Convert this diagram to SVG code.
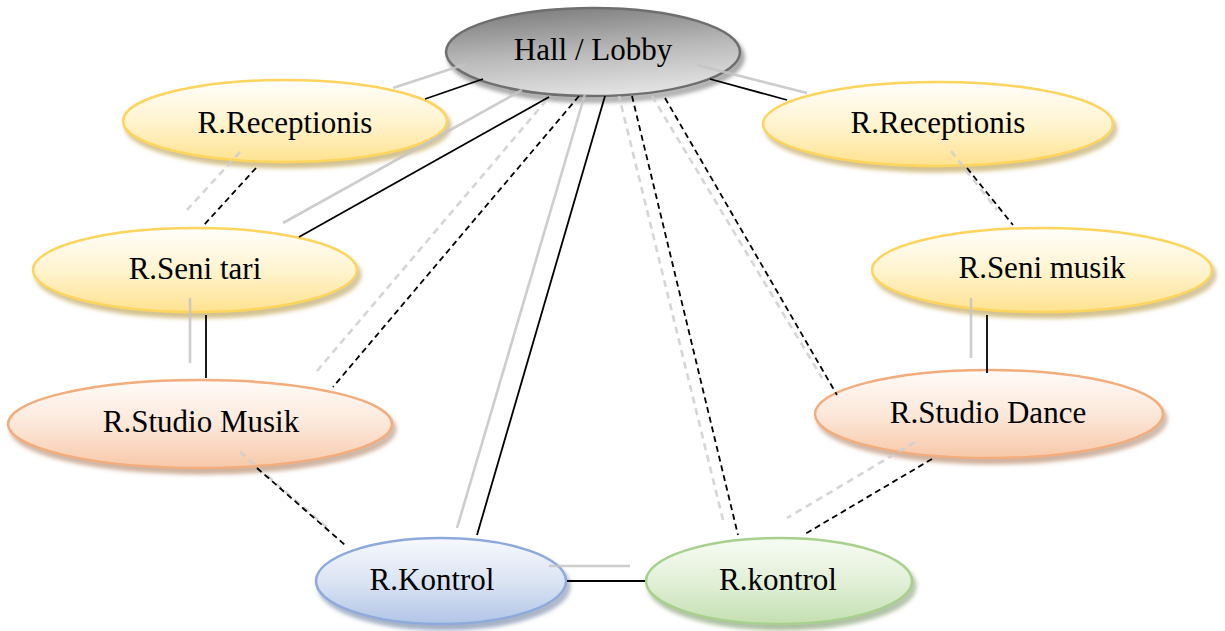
<svg xmlns="http://www.w3.org/2000/svg" width="1225" height="631" viewBox="0 0 1225 631">
  <defs>
    <style>
      .label { font-family: "Liberation Serif", "Times New Roman", serif; font-size: 31px; fill: #000; text-anchor: middle; }
      .node ellipse { stroke-width: 2.5; filter: url(#shade); }
      .link { stroke: #000; stroke-width: 1.8; fill: none; }
      .dash { stroke-dasharray: 6 4; }
      .ghost { stroke: #c4c4c4; stroke-width: 2.6; fill: none; opacity: 0.85; }
      .ghost.dash { stroke: #cfcfcf; stroke-dasharray: 7 5; }
    </style>
    <!-- soft tinted shadow below each ellipse -->
    <filter id="shade" x="-10%" y="-20%" width="125%" height="150%">
      <feColorMatrix in="SourceGraphic" type="matrix" values="0.55 0 0 0 0  0 0.55 0 0 0  0 0 0.55 0 0  0 0 0 0.75 0" result="dark"/>
      <feGaussianBlur in="dark" stdDeviation="2" result="blur"/>
      <feOffset in="blur" dx="3" dy="5" result="off"/>
      <feMerge>
        <feMergeNode in="off"/>
        <feMergeNode in="SourceGraphic"/>
      </feMerge>
    </filter>
    <linearGradient id="gGray" x1="0.3" y1="0" x2="0.55" y2="1">
      <stop offset="0" stop-color="#7e7e7e"/>
      <stop offset="0.5" stop-color="#b8b8b8"/>
      <stop offset="1" stop-color="#e4e4e4"/>
    </linearGradient>
    <linearGradient id="gYellow" x1="0" y1="0" x2="0" y2="1">
      <stop offset="0" stop-color="#fffefb"/>
      <stop offset="0.5" stop-color="#fff4d0"/>
      <stop offset="1" stop-color="#ffe290"/>
    </linearGradient>
    <linearGradient id="gOrange" x1="0" y1="0" x2="0" y2="1">
      <stop offset="0" stop-color="#fffbf8"/>
      <stop offset="0.5" stop-color="#fce8da"/>
      <stop offset="1" stop-color="#f7c8a8"/>
    </linearGradient>
    <linearGradient id="gBlue" x1="0" y1="0" x2="0" y2="1">
      <stop offset="0" stop-color="#f7f9fd"/>
      <stop offset="0.5" stop-color="#dbe4f3"/>
      <stop offset="1" stop-color="#b1c5e7"/>
    </linearGradient>
    <linearGradient id="gGreen" x1="0" y1="0" x2="0" y2="1">
      <stop offset="0" stop-color="#f7fbf3"/>
      <stop offset="0.5" stop-color="#e2f0d8"/>
      <stop offset="1" stop-color="#c4dfb1"/>
    </linearGradient>
  </defs>

  <rect width="1225" height="631" fill="#ffffff"/>

  <!-- rooms -->
  <g id="hall" class="node">
    <ellipse cx="593" cy="52" rx="147" ry="44" fill="url(#gGray)" stroke="#6e6e6e" stroke-width="2"/>
    <text class="label" x="593" y="60">Hall / Lobby</text>
  </g>
  <g id="receptionis-left" class="node">
    <ellipse cx="285" cy="121" rx="162" ry="41" fill="url(#gYellow)" stroke="#fdd45c"/>
    <text class="label" x="285" y="133">R.Receptionis</text>
  </g>
  <g id="receptionis-right" class="node">
    <ellipse cx="938" cy="124" rx="175" ry="42" fill="url(#gYellow)" stroke="#fdd45c"/>
    <text class="label" x="938" y="133">R.Receptionis</text>
  </g>
  <g id="seni-tari" class="node">
    <ellipse cx="195" cy="270" rx="162" ry="42" fill="url(#gYellow)" stroke="#fdd45c"/>
    <text class="label" x="195" y="279">R.Seni tari</text>
  </g>
  <g id="seni-musik" class="node">
    <ellipse cx="1042" cy="270" rx="170" ry="42" fill="url(#gYellow)" stroke="#fdd45c"/>
    <text class="label" x="1042" y="278">R.Seni musik</text>
  </g>
  <g id="studio-musik" class="node">
    <ellipse cx="200" cy="424" rx="192" ry="44" fill="url(#gOrange)" stroke="#f3ac7c"/>
    <text class="label" x="201" y="432">R.Studio Musik</text>
  </g>
  <g id="studio-dance" class="node">
    <ellipse cx="989" cy="414" rx="174" ry="44" fill="url(#gOrange)" stroke="#f3ac7c"/>
    <text class="label" x="988" y="423">R.Studio Dance</text>
  </g>
  <g id="kontrol-blue" class="node">
    <ellipse cx="441" cy="581" rx="125" ry="43" fill="url(#gBlue)" stroke="#8eaadc"/>
    <text class="label" x="432" y="590">R.Kontrol</text>
  </g>
  <g id="kontrol-green" class="node">
    <ellipse cx="779" cy="581" rx="133" ry="43" fill="url(#gGreen)" stroke="#a8d08d"/>
    <text class="label" x="778" y="590">R.kontrol</text>
  </g>

  <!-- connections: pale offset reflections, then the links themselves -->
  <g id="connectors">
    <g id="reflections">
      <line class="ghost" x1="393" y1="88" x2="466" y2="64"/>
      <line class="ghost" x1="283" y1="223" x2="522" y2="90"/>
      <line class="ghost dash" x1="240" y1="152" x2="187" y2="210"/>
      <line class="ghost dash" x1="317" y1="371" x2="550" y2="96"/>
      <line class="ghost" x1="457" y1="528" x2="585" y2="94"/>
      <line class="ghost dash" x1="723" y1="520" x2="619" y2="96"/>
      <line class="ghost dash" x1="652" y1="96" x2="822" y2="378"/>
      <line class="ghost" x1="697" y1="65" x2="807" y2="93"/>
      <line class="ghost dash" x1="951" y1="151" x2="997" y2="210"/>
      <line class="ghost" x1="190" y1="298" x2="190" y2="363"/>
      <line class="ghost" x1="971" y1="298" x2="971" y2="358"/>
      <line class="ghost dash" x1="240" y1="452" x2="330" y2="530"/>
      <line class="ghost dash" x1="915" y1="442" x2="787" y2="518"/>
      <line class="ghost" x1="549" y1="566" x2="630" y2="566" stroke-width="3.5"/>
    </g>
    <g id="links">
      <line class="link" x1="483" y1="79" x2="425" y2="99"/>
      <line class="link" x1="549" y1="97" x2="299" y2="237"/>
      <line class="link dash" x1="256" y1="168" x2="204" y2="225"/>
      <line class="link dash" x1="579" y1="96" x2="333" y2="387"/>
      <line class="link" x1="605" y1="96" x2="477" y2="535"/>
      <line class="link dash" x1="632" y1="96" x2="738" y2="535"/>
      <line class="link dash" x1="665" y1="98" x2="837" y2="395"/>
      <line class="link" x1="710" y1="79" x2="787" y2="100"/>
      <line class="link dash" x1="967" y1="168" x2="1013" y2="225"/>
      <line class="link" x1="206" y1="315" x2="206" y2="378"/>
      <line class="link" x1="987" y1="315" x2="987" y2="373"/>
      <line class="link dash" x1="257" y1="468" x2="345" y2="545"/>
      <line class="link dash" x1="932" y1="459" x2="805" y2="534"/>
      <line class="link" x1="567" y1="581" x2="645" y2="581"/>
    </g>
  </g>
</svg>
